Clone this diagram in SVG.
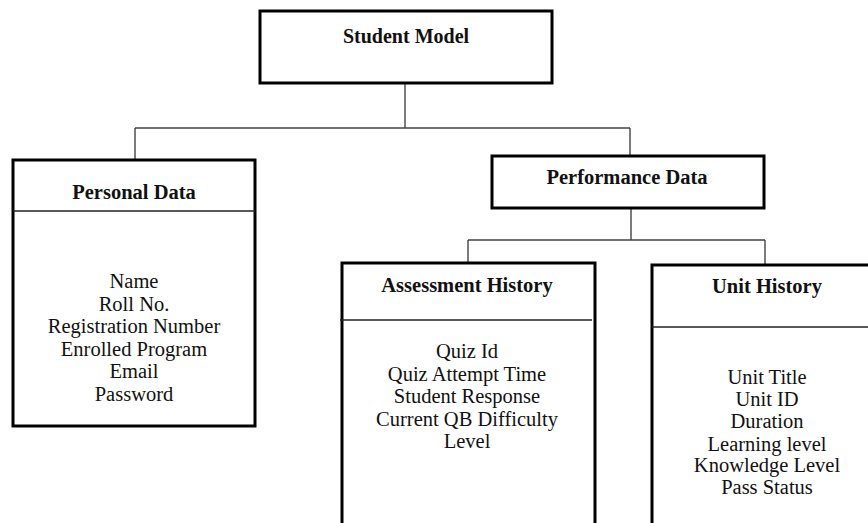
<svg xmlns="http://www.w3.org/2000/svg" width="868" height="523" viewBox="0 0 868 523">
<style>
.box{fill:#fff;stroke:#000;stroke-width:3}
.div{stroke:#222;stroke-width:1.5;fill:none}
.conn{stroke:#444;stroke-width:1.4;fill:none}
text{font-family:'Liberation Serif','Times New Roman',Times,'DejaVu Serif',serif;font-size:20.5px;fill:#111;text-anchor:middle}
.h{font-weight:bold}
</style>
<rect width="868" height="523" fill="#fff"/>
<g id="connectors">
<path class="conn" d="M405,83 V128 M135,128 H630 M135,128 V160 M630,128 V156"/>
<path class="conn" d="M631,208 V240 M468,240 H765 M468,240 V263 M765,240 V265"/>
</g>
<g id="student-model">
<rect class="box" x="260" y="11" width="292" height="72"/>
<text class="h" x="406" y="43" style="font-size:20px">Student Model</text>
</g>
<g id="personal-data">
<rect class="box" x="13" y="160" width="242" height="266"/>
<line class="div" x1="13" y1="211" x2="255" y2="211"/>
<text class="h" x="134" y="199">Personal Data</text>
<text x="134" y="288">Name</text>
<text x="134" y="310.5">Roll No.</text>
<text x="134" y="333">Registration Number</text>
<text x="134" y="355.5">Enrolled Program</text>
<text x="134" y="378">Email</text>
<text x="134" y="400.5">Password</text>
</g>
<g id="performance-data">
<rect class="box" x="492" y="156" width="272" height="52"/>
<text class="h" x="627" y="184">Performance Data</text>
</g>
<g id="assessment-history">
<rect class="box" x="342" y="263" width="253" height="270"/>
<line class="div" x1="340" y1="320" x2="592" y2="320"/>
<text class="h" x="467" y="292">Assessment History</text>
<text x="467" y="358">Quiz Id</text>
<text x="467" y="380.5">Quiz Attempt Time</text>
<text x="467" y="403">Student Response</text>
<text x="467" y="425.5">Current QB Difficulty</text>
<text x="467" y="448">Level</text>
</g>
<g id="unit-history">
<rect class="box" x="652" y="265" width="240" height="270"/>
<line class="div" x1="652" y1="327" x2="892" y2="327"/>
<text class="h" x="767" y="293">Unit History</text>
<text x="767" y="384">Unit Title</text>
<text x="767" y="406">Unit ID</text>
<text x="767" y="428">Duration</text>
<text x="767" y="450.5">Learning level</text>
<text x="767" y="472">Knowledge Level</text>
<text x="767" y="494">Pass Status</text>
</g>
</svg>
